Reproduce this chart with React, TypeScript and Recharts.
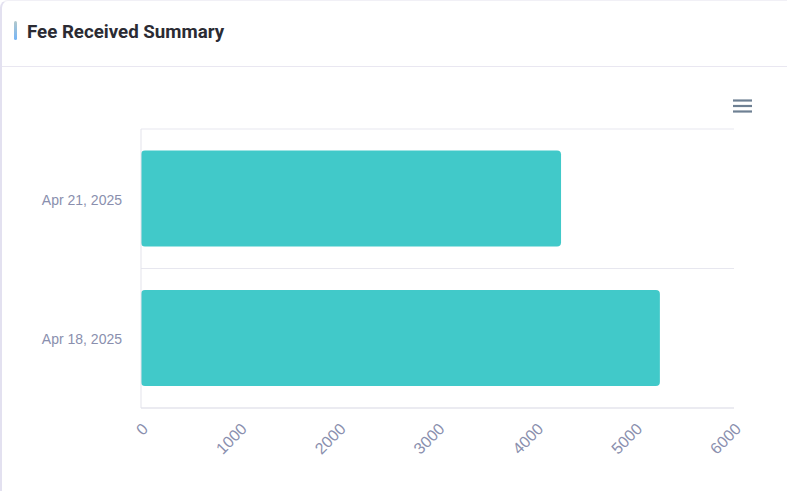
import { BarChart, Bar, XAxis, YAxis, CartesianGrid } from "recharts";

const dates = ["Apr 21, 2025", "Apr 18, 2025"];
const fees = [4250, 5250];
const feeTicks = [0, 1000, 2000, 3000, 4000, 5000, 6000];

const data = dates.map((date, i) => ({ date, fee: fees[i] }));

// grid lines sit on the category band edges, not the band centres
const bandEdges = ({ offset }: any) =>
  Array.from({ length: dates.length + 1 }, (_, i) => offset.top + (offset.height * i) / dates.length);

export default function App() {
  return (
    <div
      style={{
        position: "fixed",
        top: 0,
        left: 0,
        width: 787,
        height: 491,
        background: "#fff",
        overflow: "hidden",
        fontFamily: "Roboto, 'Liberation Sans', sans-serif",
      }}
    >
      <div
        style={{
          position: "absolute",
          left: 0,
          top: 0,
          width: 830,
          height: 540,
          borderLeft: "2px solid #e3e1f0",
          borderTop: "1px solid #f1f0f6",
          borderTopLeftRadius: 8,
        }}
      />
      <div
        style={{
          position: "absolute",
          left: 14,
          top: 21,
          width: 3,
          height: 19,
          borderRadius: 2,
          background: "linear-gradient(#b3c9cc, #74b5f7)",
        }}
      />
      <div
        style={{
          position: "absolute",
          left: 27,
          top: 19,
          fontSize: 18.7,
          fontWeight: 700,
          color: "#2b2b33",
          lineHeight: "26px",
        }}
      >
        Fee Received Summary
      </div>
      <div
        style={{
          position: "absolute",
          left: 2,
          top: 66,
          width: 790,
          height: 1,
          background: "#e9e7f1",
        }}
      />
      <svg
        style={{ position: "absolute", left: 733, top: 99 }}
        width={20}
        height={15}
      >
        {[1.5, 7, 12.5].map((y) => (
          <line key={y} x1={0} x2={19} y1={y} y2={y} stroke="#6e8093" strokeWidth={2.2} />
        ))}
      </svg>
      <div style={{ position: "absolute", left: 0, top: 0 }}>
        <BarChart
          width={787}
          height={491}
          data={data}
          layout="vertical"
          barCategoryGap="15.5%"
          margin={{ top: 129, right: 53, bottom: 23, left: 0 }}
        >
          <CartesianGrid
            vertical={false}
            stroke="#e7e7ef"
            horizontalCoordinatesGenerator={bandEdges}
          />
          <XAxis
            type="number"
            domain={[0, 6000]}
            ticks={feeTicks}
            height={60}
            interval={0}
            angle={-45}
            textAnchor="end"
            tickLine={false}
            tickSize={6}
            tickMargin={8}
            axisLine={{ stroke: "#e3e3eb" }}
            tick={{ fill: "#8a8fae", fontSize: 16, fontFamily: "'Liberation Sans', Arial, sans-serif" }}
          />
          <YAxis
            type="category"
            dataKey="date"
            width={141}
            tickLine={false}
            tickSize={6}
            tickMargin={13}
            axisLine={{ stroke: "#e3e3eb" }}
            tick={{ fill: "#8a8fae", fontSize: 14, fontFamily: "'Liberation Sans', Arial, sans-serif", dy: 1 }}
          />
          <Bar dataKey="fee" fill="#41c9c9" radius={4} isAnimationActive={false} />
        </BarChart>
      </div>
    </div>
  );
}
